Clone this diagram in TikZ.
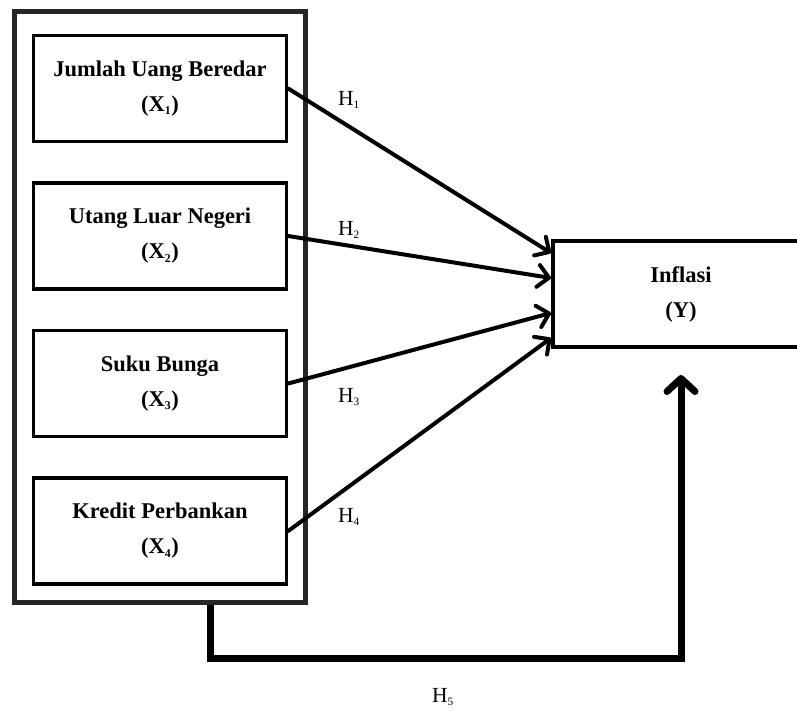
\documentclass[tikz,border=0pt]{standalone}
\usepackage{fontspec}
\setmainfont{Liberation Serif}
\usetikzlibrary{arrows.meta,positioning}
\tikzset{>={Straight Barb[round,length=11pt,width=22pt]}}
\newcommand\idx[1]{\textsubscript{\scalebox{0.75}{#1}}}

\begin{document}
\begin{tikzpicture}[x=1pt,y=-1pt,
    varbox/.style={draw,line width=3.5pt,minimum width=253pt,minimum height=106pt,
      align=center,font=\bfseries\fontsize{22.5}{35}\selectfont},
    groupbox/.style={draw=black!85,line width=5pt,minimum width=291pt,minimum height=591pt},
    hypline/.style={->,line width=4pt,line cap=round},
    jointline/.style={-{Straight Barb[round,length=13pt,width=28pt]},line width=7pt},
    hyp/.style={font=\fontsize{21.5}{25}\selectfont}]
  % sizes
  \def\gap{38pt}  % gap between variable boxes

  \useasboundingbox (0,0) rectangle (797,712);

  % group frame
  \node[groupbox] (grp) at (159.5,306.5) {};

  % independent variables
  \node[varbox] (x1) at (160,88.5) {Jumlah Uang Beredar\\(X\idx{1})};
  \node[varbox,below=\gap of x1] (x2) {Utang Luar Negeri\\(X\idx{2})};
  \node[varbox,below=\gap of x2] (x3) {Suku Bunga\\(X\idx{3})};
  \node[varbox,below=\gap of x3] (x4) {Kredit Perbankan\\(X\idx{4})};

  % dependent variable
  \node[varbox,minimum width=256pt,line width=4pt] (y) at (681,294) {Inflasi\\(Y)};

  % partial effects
  \draw[hypline] (x1.east) -- ([yshift=41pt]y.west);
  \draw[hypline] (x2.east) -- ([yshift=16pt]y.west);
  \draw[hypline] (x3.east) -- ([yshift=-19pt]y.west);
  \draw[hypline] (x4.east) -- ([yshift=-44pt]y.west);

  \node[hyp] (h1) at (349,100) {H\idx{1}};
  \node[hyp] (h2) at (349,230) {H\idx{2}};
  \node[hyp] (h3) at (349,397) {H\idx{3}};
  \node[hyp] (h4) at (349,517) {H\idx{4}};

  % joint effect
  \draw[jointline] ([xshift=50.5pt]grp.south) -- ++(0,54) -| ([yshift=-26pt]y.south);
  \node[hyp] (h5) at (443,697) {H\idx{5}};
\end{tikzpicture}
\end{document}
